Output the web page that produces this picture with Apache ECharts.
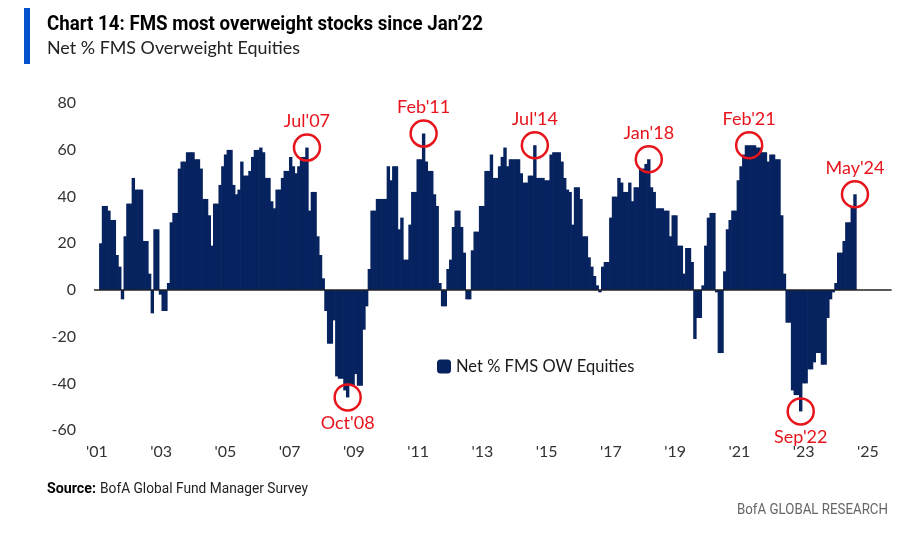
<!DOCTYPE html>
<html>
<head>
<meta charset="utf-8">
<script src="https://cdn.jsdelivr.net/npm/echarts@6/dist/echarts.min.js"></script>
<style>
  html, body { margin: 0; padding: 0; background: #ffffff; }
  #chart { width: 897px; height: 543px; }
</style>
</head>
<body>
<div id="chart"></div>
<script>
// ---- Data (monthly, Jan 2001 onward; null = no survey reading) ----
const seriesName = 'Net % FMS OW Equities';
const startYear = 2001;
const monthCount = 294; // Jan 2001 .. Jun 2025 (axis extent)
const netOW = [
  null, null, 20, 36, 36, 34, 30, 30, 15, 10, -4, 23,        // 2001
  37, 37, 48, 43, 43, 43, 21, 21, 7, -10, 26, 26,            // 2002
  -2, -9, -9, 3, 29, 33, 33, 52, 55, 55, 59, 59,             // 2003
  59, 56, 56, 52, 39, 39, 32, 19, 37, 37, 45, 53,            // 2004
  58, 60, 60, 45, 41, 43, 55, 49, 49, 51, 57, 60,            // 2005
  60, 61, 59, 48, 48, 38, 35, 43, 43, 48, 51, 51,            // 2006
  57, 53, 50, 53, 57, 57, 61, 34, 42, 42, 23, 15,            // 2007
  5, -9, -23, -23, -13, -37, -38, -38, -43, -46, -41, -41,   // 2008
  -36, -41, -41, -17, -7, 9, 34, 34, 39, 39, 39, 39,         // 2009
  53, 47, 53, 53, 26, 31, 13, 13, 28, 42, 42, 56,            // 2010
  56, 67, 55, 51, 51, 41, 36, 3, -7, -7, 9, 13,              // 2011
  27, 34, 34, 27, 16, -4, -4, 17, 25, 25, 36, 36,            // 2012
  51, 51, 58, 48, 48, 53, 57, 61, 53, 56, 56, 56,            // 2013
  56, 50, 46, 46, 49, 49, 62, 48, 48, 48, 47, 47,            // 2014
  58, 59, 59, 59, 55, 48, 43, 42, 28, 44, 44, 39,            // 2015
  23, 23, 14, 10, 6, 2, -1, 10, 12, 12, 31, 40,              // 2016
  40, 48, 46, 42, 42, 46, 38, 44, 44, 52, 52, 54,            // 2017
  56, 44, 42, 35, 35, 35, 34, 34, 23, 32, 32, 19,            // 2018
  19, 7, 18, 18, 12, -21, -12, -12, 2, 19, 31, 33,           // 2019
  33, -1, -27, -27, 8, 26, 30, 34, 34, 47, 53, 58,           // 2020
  62, 62, 62, 62, 61, 61, 59, 59, 55, 58, 58, 56,            // 2021
  56, 32, 7, -14, -14, -43, -45, -45, -52, -40, -40, -34,    // 2022
  -34, -31, -27, -27, -32, -32, -12, -4, -1, 3, 16, 16,      // 2023
  21, 29, 29, 36, 41                                         // 2024 (Jan-May)
];
// Highlighted readings (circled)
const annotLabels = ["Jul'07", "Oct'08", "Feb'11", "Jul'14", "Jan'18", "Feb'21", "Sep'22", "May'24"];
const annotMonths = ["2007-07", "2008-10", "2011-02", "2014-07", "2018-01", "2021-02", "2022-09", "2024-05"];
// Y ticks
const yTicks = { min: -60, max: 80, step: 20 };
// X tick labels (years) as printed on the date axis
const xTickYears = [2001, 2003, 2005, 2007, 2009, 2011, 2013, 2015, 2017, 2019, 2021, 2023, 2025];
const xLabelAxisRange = { min: 2000.907, max: 2025.74 };

// ---- Build categories ----
const categories = [];
for (let i = 0; i < monthCount; i++) {
  const y = startYear + Math.floor(i / 12);
  const m = (i % 12) + 1;
  categories.push(y + '-' + (m < 10 ? '0' + m : m));
}

const RED = '#e8141c';
const NAVY = '#06225f';
const FONT = 'Lato';

// text width fitting helper (condensed look of the original typeface)
const mctx = document.createElement('canvas').getContext('2d');
function fitScale(font, text, target) {
  mctx.font = font;
  return target / mctx.measureText(text).width;
}
const titleText = 'Chart 14: FMS most overweight stocks since Jan\u201922';
const titleFont = 'bold 21px Roboto';
const subText = 'Net % FMS Overweight Equities';
const subFont = '17px Lato';
const srcBold = 'Source:';
const srcRest = 'BofA Global Fund Manager Survey';
const srcFontB = 'bold 14px Roboto';
const srcFont = '14px Roboto';
const brandText = 'BofA GLOBAL RESEARCH';
const brandFont = '14px Roboto';

const markData = annotLabels.map((lab, k) => {
  const idx = categories.indexOf(annotMonths[k]);
  const v = netOW[idx];
  return {
    name: lab,
    coord: [idx, v],
    label: { position: v < 0 ? 'bottom' : 'top' }
  };
});

const chart = echarts.init(document.getElementById('chart'), null, { renderer: 'canvas' });
chart.setOption({
  backgroundColor: '#ffffff',
  animation: false,
  grid: { left: 94, right: 5.4, top: 103.2, bottom: 112.9, containLabel: false },
  legend: {
    data: [seriesName],
    left: 437, top: 358, padding: 0,
    icon: 'roundRect', itemWidth: 14, itemHeight: 14,
    textStyle: { fontFamily: FONT, fontSize: 16.5, color: '#1a1a1a' }
  },
  xAxis: [{
    type: 'category',
    data: categories,
    boundaryGap: true,
    axisLine: { show: false },
    axisTick: { show: false },
    splitLine: { show: false },
    axisLabel: { show: false }
  }, {
    type: 'value',
    position: 'bottom',
    min: xLabelAxisRange.min, max: xLabelAxisRange.max,
    axisLine: { show: false },
    axisTick: { show: false },
    splitLine: { show: false },
    axisLabel: {
      customValues: xTickYears,
      formatter: (v) => "'" + String(Math.round(v)).slice(2),
      fontFamily: FONT, fontSize: 16, color: '#333', margin: 14
    }
  }],
  yAxis: {
    type: 'value',
    min: yTicks.min, max: yTicks.max, interval: yTicks.step,
    axisLine: { show: false },
    axisTick: { show: false },
    splitLine: { show: false },
    axisLabel: { fontFamily: FONT, fontSize: 16, color: '#333', margin: 18 }
  },
  series: [{
    name: seriesName,
    type: 'bar',
    xAxisIndex: 0,
    data: netOW,
    barWidth: 3.4,
    itemStyle: { color: NAVY },
    markLine: {
      silent: true, symbol: 'none',
      lineStyle: { color: '#222', width: 1.5, type: 'solid' },
      label: { show: false },
      data: [{ yAxis: 0 }]
    },
    markPoint: {
      symbol: 'circle', symbolSize: 26, silent: true,
      itemStyle: { color: 'rgba(255,255,255,0)', borderColor: RED, borderWidth: 2.5 },
      label: {
        show: true, formatter: '{b}', color: RED,
        fontFamily: FONT, fontSize: 18, distance: 3
      },
      data: markData
    }
  }],
  graphic: [
    { type: 'rect', left: 24, top: 8, shape: { width: 6, height: 56 }, style: { fill: '#0052cc' } },
    { type: 'text', x: 47, y: 14, scaleX: fitScale(titleFont, titleText, 436),
      style: { text: titleText, font: titleFont, fill: '#000', textVerticalAlign: 'top' } },
    { type: 'text', x: 47, y: 40, scaleX: fitScale(subFont, subText, 253),
      style: { text: subText, font: subFont, fill: '#222', textVerticalAlign: 'top' } },
    { type: 'text', x: 47, y: 482, scaleX: fitScale(srcFontB, srcBold, 49),
      style: { text: srcBold, font: srcFontB, fill: '#000', textVerticalAlign: 'top' } },
    { type: 'text', x: 100, y: 482, scaleX: fitScale(srcFont, srcRest, 208),
      style: { text: srcRest, font: srcFont, fill: '#222', textVerticalAlign: 'top' } },
    { type: 'text', x: 737, y: 503, scaleX: fitScale(brandFont, brandText, 151),
      style: { text: brandText, font: brandFont, fill: '#666', textVerticalAlign: 'top' } }
  ]
});
</script>
</body>
</html>
